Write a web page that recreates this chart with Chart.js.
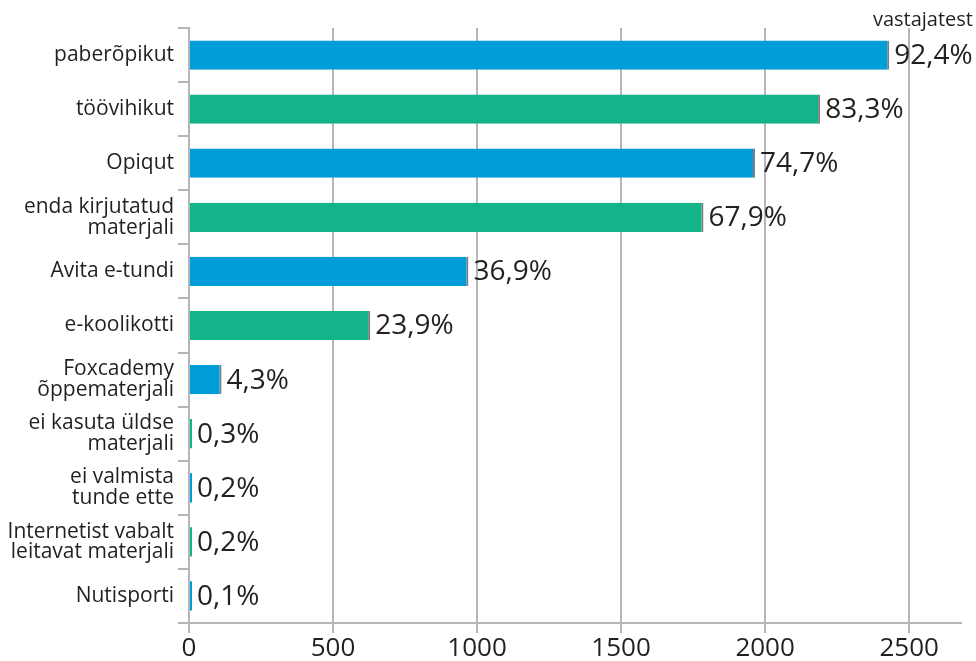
<!DOCTYPE html>
<html>
<head>
<meta charset="utf-8">
<script src="https://cdn.jsdelivr.net/npm/chart.js@4.4.1/dist/chart.umd.min.js"></script>
<style>
  html, body { margin: 0; padding: 0; background: #ffffff; overflow: hidden; }
  #wrap { width: 976px; height: 661px; overflow: hidden; }
  canvas { display: block; }
</style>
</head>
<body>
<div id="wrap"><canvas id="c" width="976" height="672"></canvas></div>
<script>
const categories = [
  "paberõpikut",
  "töövihikut",
  "Opiqut",
  ["enda kirjutatud", "materjali"],
  "Avita e-tundi",
  "e-koolikotti",
  ["Foxcademy", "õppematerjali"],
  ["ei kasuta üldse", "materjali"],
  ["ei valmista", "tunde ette"],
  ["Internetist vabalt", "leitavat materjali"],
  "Nutisporti"
];
const respondents = [2431, 2191, 1965, 1786, 970, 629, 113, 8, 5, 5, 3];
const percentLabels = ["92,4%", "83,3%", "74,7%", "67,9%", "36,9%", "23,9%", "4,3%", "0,3%", "0,2%", "0,2%", "0,1%"];
const xTicks = [0, 500, 1000, 1500, 2000, 2500];
const unitLabel = "vastajatest";

const BLUE = "#009ed8";
const GREEN = "#14b48b";
const GRID = "#b6b6ba";
const TEXT = "#231f20";
const FONT = "'Open Sans', 'Noto Sans', sans-serif";

const barColors = categories.map((_, i) => i % 2 === 0 ? BLUE : GREEN);

const valueLabels = {
  id: "valueLabels",
  afterDatasetsDraw(chart) {
    const ctx = chart.ctx;
    const meta = chart.getDatasetMeta(0);
    ctx.save();
    ctx.font = "28px " + FONT;
    ctx.fillStyle = TEXT;
    ctx.textAlign = "left";
    ctx.textBaseline = "middle";
    meta.data.forEach((bar, i) => {
      ctx.fillText(percentLabels[i], bar.x + 5, bar.y + 1);
    });
    ctx.font = "20px " + FONT;
    ctx.textAlign = "right";
    ctx.textBaseline = "alphabetic";
    ctx.fillText(unitLabel, 973, 26);
    ctx.restore();
  }
};

new Chart(document.getElementById("c"), {
  type: "bar",
  data: {
    labels: categories,
    datasets: [{
      data: respondents,
      backgroundColor: barColors,
      borderColor: "#7d7d7d",
      borderWidth: (c) => (c.raw > 50 ? { top: 0, bottom: 0, left: 0, right: 2 } : 0),
      borderSkipped: "left",
      barPercentage: 0.54,
      categoryPercentage: 1.0,
      minBarLength: 3
    }]
  },
  options: {
    indexAxis: "y",
    responsive: false,
    animation: false,
    layout: { padding: { top: 28, right: 15, left: 0, bottom: 0 } },
    plugins: {
      legend: { display: false },
      tooltip: { enabled: false }
    },
    scales: {
      x: {
        type: "linear",
        min: 0,
        max: 2680,
        afterBuildTicks(scale) {
          scale.ticks = xTicks.map(v => ({ value: v }));
        },
        afterFit(scale) { scale.height = 49; },
        grid: {
          color: GRID,
          lineWidth: 2,
          tickLength: 10,
          drawTicks: true
        },
        border: { display: true, color: GRID, width: 2 },
        ticks: {
          font: { family: FONT, size: 26 },
          color: TEXT,
          padding: 0,
          maxRotation: 0,
          callback: (v) => String(v)
        }
      },
      y: {
        type: "category",
        afterFit(scale) { scale.width = 189; },
        grid: {
          offset: true,
          drawOnChartArea: false,
          color: GRID,
          lineWidth: 2,
          tickLength: 11
        },
        border: { display: true, color: GRID, width: 2 },
        ticks: {
          font: { family: FONT, size: 21, lineHeight: 0.98 },
          color: TEXT,
          padding: 4
        }
      }
    }
  },
  plugins: [valueLabels]
});
</script>
</body>
</html>
